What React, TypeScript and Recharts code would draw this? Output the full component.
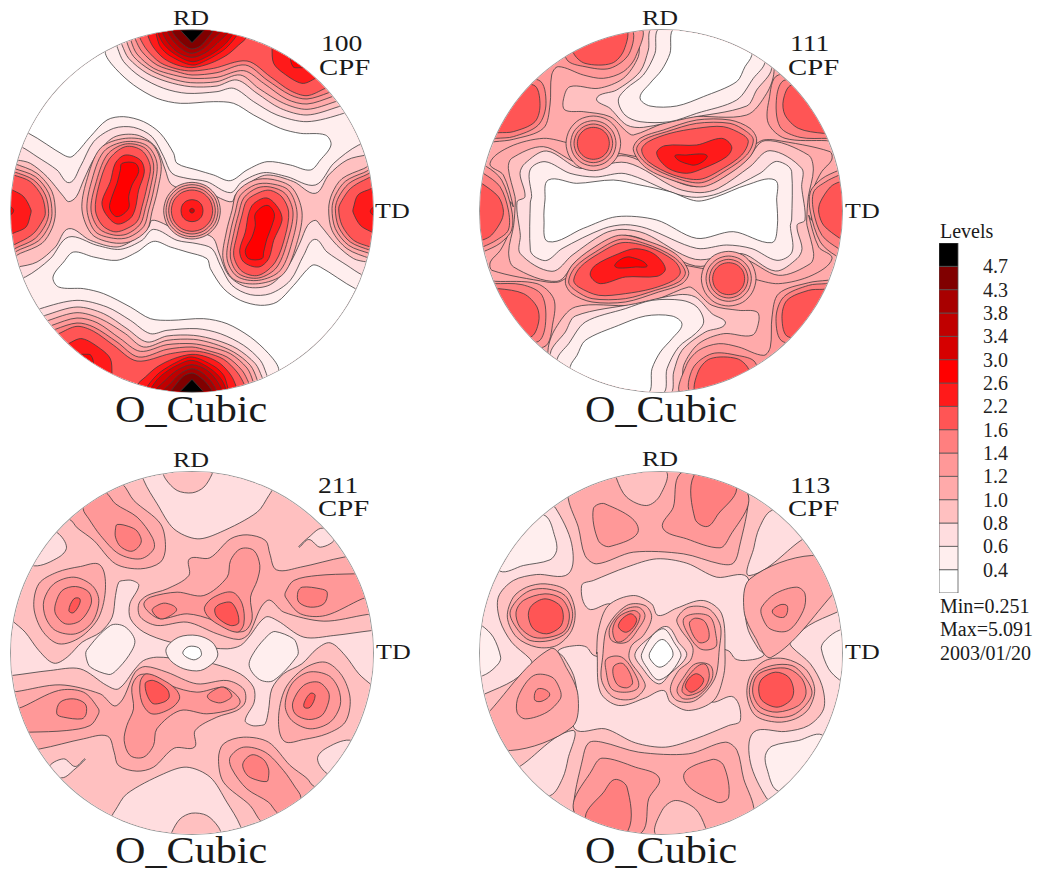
import React from 'react'
import { Bar, BarChart, Scatter, ScatterChart, XAxis, YAxis } from 'recharts'

type Pt = [number, number]
// level index, contour outline, also drawn through the flipped axes (pole figures are point symmetric)
type Layer = [number, Pt[], boolean]

const levelColors = [
  '#ffffff', '#ffeeee', '#ffdddf', '#ffc0c0', '#ffaaaa', '#ff9898', '#ff7f7f', '#ff5555',
  '#ff1a1a', '#ff0000', '#d60000', '#c00000', '#a80000', '#800000', '#000000',
]
const levelLabels = ['4.7', '4.3', '3.8', '3.4', '3.0', '2.6', '2.2', '1.6', '1.4', '1.2', '1.0', '0.8', '0.6', '0.4']

// ---- 100 figure ----
const p100_base: Pt[] = [[32, 90], [1118, 90], [1118, 1176], [32, 1176]]
const p100_t2: Pt[] = [[20, 478], [50, 480], [90, 490], [140, 530], [190, 590], [205, 605], [228, 590], [250, 540], [285, 470], [340, 412], [410, 405], [465, 440], [495, 510], [510, 550], [540, 565], [600, 565], [660, 595], [695, 605], [705, 585], [745, 550], [800, 525], [880, 545], [945, 580], [985, 525], [1040, 480], [1100, 465], [1130, 465], [1130, 80], [20, 80]]
const p100_t1: Pt[] = [[20, 430], [62, 440], [110, 470], [170, 510], [207, 548], [240, 500], [280, 425], [340, 385], [400, 382], [455, 410], [490, 470], [515, 520], [560, 535], [620, 545], [690, 578], [725, 545], [790, 518], [860, 530], [945, 555], [1000, 490], [1075, 435], [1130, 425], [1130, 80], [20, 80]]
const p100_white: Pt[] = [[315, 160], [345, 205], [400, 255], [470, 295], [540, 310], [640, 305], [700, 310], [760, 345], [840, 385], [900, 400], [975, 405], [992, 435], [960, 480], [930, 510], [870, 495], [800, 485], [740, 510], [690, 542], [640, 525], [590, 510], [530, 490], [520, 460], [480, 400], [430, 365], [370, 350], [320, 360], [270, 410], [215, 470], [190, 465], [85, 400], [20, 380], [20, 80], [315, 80]]
const p100_top2: Pt[] = [[345, 120], [352, 145], [370, 185], [420, 230], [490, 265], [560, 280], [650, 275], [700, 265], [760, 305], [830, 345], [920, 365], [1030, 340], [1130, 300], [1130, 80], [345, 80]]
const p100_top3: Pt[] = [[360, 120], [365, 135], [385, 175], [440, 220], [500, 245], [570, 260], [650, 258], [710, 240], [770, 280], [840, 325], [920, 345], [1015, 320], [1130, 280], [1130, 80], [360, 80]]
const p100_top4: Pt[] = [[375, 100], [380, 128], [400, 170], [450, 210], [510, 235], [570, 248], [650, 245], [720, 225], [775, 265], [850, 310], [920, 328], [1005, 305], [1130, 260], [1130, 80], [375, 80]]
const p100_top5: Pt[] = [[390, 100], [392, 122], [410, 162], [460, 205], [520, 225], [575, 235], [650, 232], [730, 212], [790, 250], [860, 298], [920, 312], [995, 290], [1130, 240], [1130, 80], [390, 80]]
const p100_top6: Pt[] = [[400, 100], [405, 118], [425, 155], [470, 195], [530, 215], [575, 225], [650, 218], [735, 195], [800, 240], [870, 285], [920, 297], [985, 278], [1130, 220], [1130, 80], [400, 80]]
const p100_top7: Pt[] = [[415, 90], [418, 112], [440, 150], [480, 188], [530, 207], [575, 213], [640, 205], [740, 183], [810, 230], [870, 272], [920, 287], [975, 265], [1130, 200], [1130, 80], [415, 80]]
const p100_top8: Pt[] = [[440, 90], [443, 108], [458, 140], [490, 175], [530, 195], [575, 203], [630, 190], [680, 165], [715, 135], [740, 110], [740, 80], [440, 80]]
const p100_side8: Pt[] = [[815, 145], [820, 190], [850, 220], [905, 250], [945, 235], [1000, 200], [900, 100], [815, 100]]
const p100_side9: Pt[] = [[872, 170], [878, 200], [895, 203], [910, 200], [890, 170]]
const p100_top9: Pt[] = [[465, 90], [468, 105], [480, 140], [510, 168], [575, 195], [620, 180], [670, 150], [695, 125], [712, 100], [712, 80], [465, 80]]
const p100_top10: Pt[] = [[478, 90], [485, 125], [520, 160], [575, 185], [620, 170], [660, 145], [685, 120], [698, 90]]
const p100_top11: Pt[] = [[490, 90], [498, 120], [530, 155], [575, 172], [615, 158], [650, 130], [680, 90]]
const p100_top12: Pt[] = [[505, 90], [515, 118], [545, 148], [575, 160], [610, 145], [640, 115], [660, 90]]
const p100_top13: Pt[] = [[518, 90], [530, 115], [555, 138], [575, 147], [600, 138], [625, 110], [635, 90]]
const p100_top14: Pt[] = [[540, 90], [575, 128], [612, 90]]
const p100_edge4: Pt[] = [[20, 485], [40, 490], [110, 520], [155, 575], [165, 640], [155, 685], [125, 730], [60, 760], [20, 775]]
const p100_edge5: Pt[] = [[20, 500], [40, 505], [105, 530], [145, 580], [155, 640], [145, 680], [115, 722], [60, 748], [20, 760]]
const p100_edge6: Pt[] = [[20, 510], [40, 515], [100, 540], [135, 585], [145, 640], [135, 675], [105, 715], [60, 738], [20, 748]]
const p100_edge7: Pt[] = [[20, 520], [40, 525], [90, 545], [125, 590], [135, 640], [125, 665], [100, 700], [60, 725], [20, 735]]
const p100_edge8: Pt[] = [[20, 565], [40, 572], [70, 590], [92, 630], [90, 645], [78, 680], [50, 695], [20, 700]]
const p100_edge9: Pt[] = [[25, 620], [40, 632], [25, 645]]
const p100_peak4: Pt[] = [[375, 415], [450, 428], [482, 490], [472, 570], [455, 635], [440, 690], [390, 725], [335, 728], [275, 703], [245, 630], [258, 545], [300, 445]]
const p100_peak5: Pt[] = [[375, 425], [440, 437], [470, 490], [460, 570], [445, 630], [430, 680], [385, 712], [340, 715], [285, 695], [260, 630], [272, 550], [310, 455]]
const p100_peak6: Pt[] = [[375, 432], [435, 445], [460, 495], [450, 565], [435, 625], [420, 672], [380, 702], [340, 705], [295, 685], [272, 630], [285, 555], [320, 465]]
const p100_peak7: Pt[] = [[375, 440], [425, 452], [450, 500], [440, 560], [425, 620], [410, 665], [370, 690], [340, 695], [305, 675], [285, 630], [295, 560], [325, 480]]
const p100_peak8: Pt[] = [[375, 465], [420, 480], [432, 515], [415, 570], [405, 625], [390, 655], [350, 672], [315, 640], [305, 605], [330, 545], [345, 490]]
const p100_peak9: Pt[] = [[365, 490], [405, 490], [415, 515], [395, 555], [385, 590], [385, 625], [350, 650], [328, 625], [335, 590], [350, 550], [360, 510]]
const p100_mid4: Pt[] = [[575, 547], [618, 558], [649, 590], [660, 632], [649, 675], [618, 706], [575, 717], [532, 706], [501, 675], [490, 632], [501, 590], [532, 558]]
const p100_mid5: Pt[] = [[575, 554], [614, 564], [643, 593], [653, 632], [643, 671], [614, 700], [575, 710], [536, 700], [507, 671], [497, 632], [507, 593], [536, 564]]
const p100_mid6: Pt[] = [[575, 562], [610, 571], [636, 597], [645, 632], [636, 667], [610, 693], [575, 702], [540, 693], [514, 667], [505, 632], [514, 597], [540, 571]]
const p100_mid7: Pt[] = [[575, 570], [606, 578], [629, 601], [637, 632], [629, 663], [606, 686], [575, 694], [544, 686], [521, 663], [513, 632], [521, 601], [544, 578]]
const p100_mid8: Pt[] = [[575, 599], [592, 603], [604, 615], [608, 632], [604, 649], [592, 661], [575, 665], [558, 661], [546, 649], [542, 632], [546, 615], [558, 603]]
const p100_mid9: Pt[] = [[575, 625], [580, 627], [582, 632], [580, 637], [575, 639], [570, 637], [568, 632], [570, 627]]

const p100Layers: Layer[] = [
  [3, p100_base, false],
  [2, p100_t2, true], [1, p100_t1, true], [0, p100_white, true],
  [2, p100_top2, true], [3, p100_top3, true], [4, p100_top4, true], [5, p100_top5, true], [6, p100_top6, true], [7, p100_top7, true],
  [8, p100_top8, true], [8, p100_side8, true], [9, p100_side9, true], [9, p100_top9, true], [10, p100_top10, true],
  [11, p100_top11, true], [12, p100_top12, true], [13, p100_top13, true], [14, p100_top14, true],
  [4, p100_edge4, true], [5, p100_edge5, true], [6, p100_edge6, true], [7, p100_edge7, true], [8, p100_edge8, true], [9, p100_edge9, true],
  [4, p100_peak4, true], [5, p100_peak5, true], [6, p100_peak6, true], [7, p100_peak7, true], [8, p100_peak8, true], [9, p100_peak9, true],
  [4, p100_mid4, false], [5, p100_mid5, false], [6, p100_mid6, false], [7, p100_mid7, false], [8, p100_mid8, false], [10, p100_mid9, false],
]

// ---- 111 figure ----
const p111_base: Pt[] = [[30, 90], [1116, 90], [1116, 1176], [30, 1176]]
const p111_u3: Pt[] = [[520, 85], [505, 170], [460, 235], [385, 265], [300, 260], [280, 300], [285, 330], [340, 335], [420, 350], [470, 395], [490, 405], [580, 370], [660, 350], [830, 345], [890, 280], [912, 215], [900, 85]]
const p111_u2: Pt[] = [[548, 85], [535, 150], [510, 215], [440, 270], [380, 295], [420, 325], [470, 375], [520, 382], [650, 355], [830, 318], [860, 270], [905, 205], [880, 85]]
const p111_u1: Pt[] = [[570, 85], [555, 160], [520, 225], [470, 265], [445, 300], [465, 345], [510, 365], [600, 365], [680, 340], [800, 300], [850, 235], [885, 185], [860, 85]]
const p111_uw: Pt[] = [[615, 85], [600, 160], [575, 210], [540, 250], [510, 293], [540, 318], [620, 318], [700, 290], [800, 245], [825, 200], [845, 167], [850, 85]]
const p111_ul5: Pt[] = [[510, 85], [497, 170], [460, 215], [400, 235], [340, 225], [265, 200], [245, 225], [240, 315], [220, 385], [130, 418], [75, 425], [20, 430], [20, 85]]
const p111_a6: Pt[] = [[480, 85], [478, 160], [420, 205], [345, 200], [290, 178], [280, 85]]
const p111_a7: Pt[] = [[465, 85], [462, 150], [425, 190], [345, 190], [310, 158], [300, 85]]
const p111_b6: Pt[] = [[205, 240], [228, 310], [205, 375], [130, 410], [80, 415], [20, 420], [20, 240]]
const p111_b7: Pt[] = [[190, 255], [210, 310], [195, 365], [130, 395], [88, 398], [20, 400], [20, 255]]
const p111_c5: Pt[] = [[925, 225], [897, 300], [895, 370], [945, 415], [1070, 422], [1130, 425], [1130, 225]]
const p111_c6: Pt[] = [[945, 240], [920, 290], [930, 380], [990, 412], [1075, 415], [1130, 415], [1130, 240]]
const p111_c7: Pt[] = [[965, 255], [940, 300], [945, 345], [985, 385], [1060, 400], [1130, 400], [1130, 255]]
const p111_mid4: Pt[] = [[130, 620], [100, 525], [60, 490], [120, 440], [220, 415], [300, 430], [500, 470], [700, 500], [860, 430], [880, 420], [915, 420], [1080, 455], [1085, 480], [1055, 515], [1030, 570], [1025, 660], [1016, 646], [1046, 741], [1086, 776], [1026, 826], [926, 851], [846, 836], [646, 796], [446, 766], [286, 836], [266, 846], [231, 846], [66, 811], [61, 786], [91, 751], [116, 696], [121, 606]]
const p111_mid3: Pt[] = [[135, 590], [115, 505], [125, 475], [220, 440], [330, 490], [470, 468], [620, 545], [680, 560], [745, 540], [830, 480], [885, 422], [1015, 465], [1030, 510], [1015, 590], [1010, 660], [1011, 676], [1031, 761], [1021, 791], [926, 826], [816, 776], [676, 798], [526, 721], [466, 706], [401, 726], [316, 786], [261, 844], [131, 801], [116, 756], [131, 676], [136, 606]]
const p111_mid2: Pt[] = [[165, 590], [150, 520], [165, 490], [230, 453], [330, 505], [470, 488], [620, 565], [690, 578], [745, 565], [840, 500], [900, 452], [995, 505], [995, 560], [1005, 660], [981, 676], [996, 746], [981, 776], [916, 813], [816, 761], [676, 778], [526, 701], [456, 688], [401, 701], [306, 766], [246, 814], [151, 761], [151, 706], [141, 606]]
const p111_mid1: Pt[] = [[185, 590], [180, 510], [225, 485], [300, 520], [376, 531], [466, 521], [616, 581], [680, 592], [746, 580], [870, 520], [915, 485], [950, 495], [965, 515], [965, 660], [961, 676], [966, 756], [921, 781], [846, 746], [770, 735], [680, 745], [530, 685], [466, 674], [400, 686], [276, 746], [231, 781], [196, 771], [181, 751], [181, 606]]
const p111_midw: Pt[] = [[235, 540], [225, 600], [222, 660], [235, 725], [340, 685], [440, 650], [560, 660], [680, 715], [790, 695], [905, 728], [922, 680], [920, 600], [915, 540], [830, 555], [740, 590], [680, 603], [600, 575], [510, 555], [430, 540], [320, 550]]
const p111_edge5: Pt[] = [[20, 495], [50, 500], [95, 540], [125, 630], [125, 690], [90, 730], [40, 755], [20, 760]]
const p111_edge6: Pt[] = [[20, 515], [40, 520], [90, 560], [115, 630], [115, 690], [80, 720], [40, 740], [20, 745]]
const p111_edge7: Pt[] = [[20, 545], [35, 550], [85, 590], [100, 630], [95, 660], [65, 705], [38, 720], [20, 720]]
const p111_ring4: Pt[] = [[370, 348], [412, 359], [441, 389], [452, 430], [441, 471], [412, 501], [370, 512], [328, 501], [299, 471], [288, 430], [299, 389], [328, 359]]
const p111_ring5: Pt[] = [[370, 362], [404, 371], [429, 396], [438, 430], [429, 464], [404, 489], [370, 498], [336, 489], [311, 464], [302, 430], [311, 396], [336, 371]]
const p111_ring6: Pt[] = [[370, 372], [399, 380], [420, 401], [428, 430], [420, 459], [399, 480], [370, 488], [341, 480], [320, 459], [312, 430], [320, 401], [341, 380]]
const p111_ring7: Pt[] = [[370, 382], [394, 388], [412, 406], [418, 430], [412, 454], [394, 472], [370, 478], [346, 472], [328, 454], [322, 430], [328, 406], [346, 388]]
const p111_pk5: Pt[] = [[490, 450], [510, 415], [580, 390], [680, 360], [780, 360], [840, 385], [860, 420], [840, 470], [780, 520], [700, 560], [620, 545], [530, 505]]
const p111_pk6: Pt[] = [[500, 450], [520, 420], [590, 395], [680, 370], [780, 370], [830, 395], [850, 420], [830, 465], [770, 510], [695, 548], [620, 535], [535, 495]]
const p111_pk7: Pt[] = [[515, 450], [535, 425], [600, 400], [680, 385], [760, 380], [820, 405], [835, 425], [815, 465], [760, 505], [690, 538], [610, 525], [535, 485]]
const p111_pk8: Pt[] = [[560, 460], [585, 437], [680, 435], [755, 415], [785, 440], [770, 470], [700, 505], [650, 520], [595, 505]]
const p111_pk9: Pt[] = [[615, 470], [650, 465], [700, 462], [712, 470], [690, 490], [665, 495]]

const p111Layers: Layer[] = [
  [4, p111_base, false],
  [4, p111_mid4, false], [3, p111_mid3, false], [2, p111_mid2, false], [1, p111_mid1, false], [0, p111_midw, false],
  [3, p111_u3, true], [2, p111_u2, true], [1, p111_u1, true], [0, p111_uw, true],
  [5, p111_ul5, true], [6, p111_a6, true], [7, p111_a7, true], [6, p111_b6, true], [7, p111_b7, true],
  [5, p111_c5, true], [6, p111_c6, true], [7, p111_c7, true],
  [5, p111_edge5, true], [6, p111_edge6, true], [7, p111_edge7, true],
  [4, p111_ring4, true], [5, p111_ring5, true], [6, p111_ring6, true], [7, p111_ring7, true],
  [5, p111_pk5, true], [6, p111_pk6, true], [7, p111_pk7, true], [8, p111_pk8, true], [9, p111_pk9, true],
]

// ---- 211 figure ----
const p211_base: Pt[] = [[31, 94], [1118, 94], [1118, 1181], [31, 1181]]
const p211_zone: Pt[] = [[15, 525], [34, 540], [74, 575], [115, 630], [160, 668], [200, 650], [245, 605], [300, 575], [335, 530], [345, 465], [355, 425], [370, 420], [395, 420], [415, 435], [388, 490], [390, 535], [430, 575], [510, 605], [600, 618], [680, 625], [720, 615], [745, 590], [795, 530], [830, 540], [910, 590], [1000, 585], [1115, 570], [1135, 570], [1134, 750], [1115, 735], [1075, 700], [1034, 645], [989, 607], [949, 625], [904, 670], [849, 700], [814, 745], [804, 810], [794, 850], [779, 855], [754, 855], [734, 840], [761, 785], [759, 740], [719, 700], [639, 670], [549, 657], [469, 650], [429, 660], [404, 685], [354, 745], [319, 735], [239, 685], [149, 690], [34, 705], [14, 705]]
const p211_blob1: Pt[] = [[258, 630], [330, 555], [372, 558], [403, 600], [385, 645], [345, 692], [325, 702], [270, 680], [258, 655]]
const p211_mid1: Pt[] = [[497, 625], [535, 590], [590, 585], [635, 605], [652, 640], [640, 665], [600, 690], [550, 685], [510, 660]]
const p211_mid0: Pt[] = [[547, 635], [565, 618], [595, 622], [603, 640], [598, 650], [580, 658], [555, 648]]
const p211_top2: Pt[] = [[430, 90], [430, 120], [470, 190], [520, 265], [590, 295], [660, 275], [770, 215], [805, 165], [815, 148], [830, 90]]
const p211_cap3: Pt[] = [[490, 90], [495, 115], [530, 150], [575, 157], [610, 140], [635, 100], [635, 85]]
const p211_left2: Pt[] = [[172, 278], [198, 320], [175, 350], [102, 376], [60, 340], [120, 260]]
const p211_sliver2: Pt[] = [[895, 318], [925, 290], [965, 263], [1005, 290], [960, 320], [925, 297], [897, 320]]
const p211_ul4: Pt[] = [[365, 130], [400, 180], [480, 250], [495, 320], [480, 365], [420, 385], [345, 370], [280, 300], [230, 262], [207, 237], [150, 240], [300, 100]]
const p211_ul5: Pt[] = [[315, 155], [345, 190], [410, 230], [455, 290], [460, 325], [420, 355], [355, 340], [300, 285], [265, 235], [248, 205], [260, 140]]
const p211_ul6: Pt[] = [[345, 265], [350, 252], [385, 258], [410, 272], [422, 305], [395, 332], [360, 318], [345, 290]]
const p211_lp4: Pt[] = [[298, 373], [315, 440], [295, 530], [240, 590], [175, 610], [125, 570], [100, 500], [115, 430], [170, 395], [240, 378]]
const p211_lp5: Pt[] = [[130, 480], [160, 430], [220, 410], [275, 435], [295, 480], [275, 545], [225, 580], [165, 570], [135, 530]]
const p211_lp6: Pt[] = [[165, 490], [185, 450], [225, 438], [265, 455], [272, 490], [240, 540], [195, 550], [165, 520]]
const p211_lp7: Pt[] = [[205, 510], [220, 475], [238, 475], [235, 495], [218, 517]]
const p211_cr4: Pt[] = [[567, 355], [628, 352], [690, 295], [740, 283], [795, 300], [808, 340], [828, 388], [900, 380], [1030, 350], [1130, 340], [1130, 520], [1100, 522], [970, 542], [850, 515], [800, 480], [745, 580], [715, 597], [650, 580], [560, 545], [470, 555], [420, 530], [415, 490], [440, 465], [500, 445], [565, 405]]
const p211_cr5: Pt[] = [[690, 360], [720, 325], [760, 330], [778, 375], [770, 420], [750, 470], [755, 535], [735, 570], [700, 572], [640, 540], [560, 520], [480, 535], [445, 515], [430, 490], [450, 470], [530, 455], [610, 465], [680, 410]]
const p211_cr6a: Pt[] = [[455, 510], [470, 495], [495, 488], [528, 505], [510, 525], [480, 535]]
const p211_cr6b: Pt[] = [[612, 500], [640, 470], [695, 455], [725, 490], [730, 550], [710, 575], [650, 550], [620, 525]]
const p211_cr7: Pt[] = [[643, 505], [660, 490], [695, 488], [715, 545], [690, 555], [650, 530]]
const p211_r5: Pt[] = [[855, 455], [880, 420], [950, 405], [1060, 400], [1130, 400], [1130, 460], [1085, 475], [975, 525], [900, 520], [855, 470]]
const p211_r6: Pt[] = [[892, 455], [905, 440], [960, 445], [980, 455], [970, 490], [930, 500], [895, 485]]

const p211Layers: Layer[] = [
  [3, p211_base, false],
  [2, p211_zone, false],
  [1, p211_blob1, true], [1, p211_mid1, false], [0, p211_mid0, false],
  [2, p211_top2, true], [3, p211_cap3, true], [2, p211_left2, true], [2, p211_sliver2, true],
  [4, p211_ul4, true], [5, p211_ul5, true], [6, p211_ul6, true],
  [4, p211_lp4, true], [5, p211_lp5, true], [6, p211_lp6, true], [7, p211_lp7, true],
  [4, p211_cr4, true], [5, p211_cr5, true], [6, p211_cr6a, true], [6, p211_cr6b, true], [7, p211_cr7, true],
  [5, p211_r5, true], [6, p211_r6, true],
]

// ---- 113 figure ----
const p113_base: Pt[] = [[30, 94], [1116, 94], [1116, 1181], [30, 1181]]
const p113_zone: Pt[] = [[355, 505], [335, 435], [370, 420], [470, 380], [560, 355], [650, 368], [740, 410], [832, 410], [825, 510], [835, 570], [865, 625], [881, 645], [826, 660], [796, 655], [774, 630], [696, 625], [696, 755], [726, 785], [791, 770], [811, 840], [776, 855], [676, 895], [586, 920], [496, 907], [406, 865], [314, 865], [321, 765], [311, 705], [281, 650], [265, 630], [320, 615], [350, 620], [372, 645], [450, 650], [450, 520], [420, 490]]
const p113_lobes: Pt[] = [[380, 640], [385, 570], [415, 495], [490, 465], [545, 490], [565, 525], [620, 503], [700, 480], [755, 520], [765, 640], [761, 705], [731, 780], [656, 810], [601, 785], [581, 750], [526, 772], [446, 795], [391, 755], [381, 635]]
const p113_ul2: Pt[] = [[235, 200], [255, 200], [305, 310], [295, 400], [200, 402], [130, 420], [85, 470], [90, 540], [125, 605], [180, 655], [185, 670], [130, 720], [45, 760], [20, 770], [20, 200]]
const p113_ul1: Pt[] = [[225, 225], [255, 290], [260, 330], [240, 358], [160, 375], [90, 392], [60, 330], [150, 230]]
const p113_low1: Pt[] = [[20, 555], [35, 555], [70, 590], [92, 650], [85, 670], [50, 700], [20, 705]]
const p113_tr2: Pt[] = [[905, 210], [868, 262], [852, 320], [840, 405], [1000, 295], [1020, 295], [1000, 210]]
const p113_top4: Pt[] = [[295, 175], [325, 260], [345, 345], [380, 370], [490, 335], [640, 340], [750, 370], [790, 368], [808, 320], [835, 165], [800, 85], [300, 85]]
const p113_cap3: Pt[] = [[440, 115], [470, 170], [530, 195], [570, 165], [585, 90], [440, 90]]
const p113_t5a: Pt[] = [[370, 205], [405, 190], [505, 265], [420, 318], [385, 300]]
const p113_t5b: Pt[] = [[630, 100], [610, 200], [578, 262], [650, 295], [750, 322], [778, 290], [835, 165], [720, 90]]
const p113_t6: Pt[] = [[672, 105], [675, 235], [712, 258], [745, 220], [800, 145], [750, 100]]
const p113_r4: Pt[] = [[1025, 345], [840, 415], [822, 510], [855, 590], [905, 650], [1085, 465], [1130, 400]]
const p113_r5: Pt[] = [[875, 500], [915, 460], [980, 440], [1005, 460], [1000, 510], [955, 570], [900, 565], [875, 525]]
const p113_r6: Pt[] = [[907, 515], [930, 493], [952, 497], [942, 530]]
const p113_lp4: Pt[] = [[225, 430], [290, 450], [315, 510], [305, 570], [260, 615], [200, 620], [140, 590], [112, 530], [130, 470], [170, 440]]
const p113_lp5: Pt[] = [[230, 445], [285, 465], [308, 520], [290, 575], [240, 600], [180, 600], [145, 570], [120, 520], [140, 480], [180, 450]]
const p113_lp6: Pt[] = [[225, 460], [275, 475], [298, 520], [285, 570], [240, 590], [190, 590], [150, 560], [138, 515], [160, 480]]
const p113_lp7: Pt[] = [[225, 475], [270, 495], [280, 530], [270, 560], [230, 580], [190, 565], [175, 525], [185, 495]]
const p113_lb4: Pt[] = [[398, 650], [412, 560], [470, 495], [525, 495], [545, 530], [520, 585], [485, 615], [478, 655], [515, 710], [525, 740], [490, 775], [430, 770], [395, 720]]
const p113_lb5a: Pt[] = [[425, 600], [420, 560], [460, 510], [505, 500], [525, 525], [505, 565], [470, 605]]
const p113_lb5b: Pt[] = [[408, 690], [410, 655], [455, 650], [495, 700], [505, 740], [470, 755], [425, 745]]
const p113_lb6a: Pt[] = [[428, 570], [445, 530], [490, 510], [510, 525], [490, 570], [445, 605]]
const p113_lb7a: Pt[] = [[445, 555], [480, 520], [500, 540], [470, 575]]
const p113_lb6b: Pt[] = [[430, 680], [460, 670], [488, 725], [470, 742], [440, 730]]
const p113_mid2: Pt[] = [[495, 640], [540, 590], [590, 558], [625, 605], [650, 645], [600, 700], [565, 730], [515, 680]]
const p113_mid1: Pt[] = [[515, 640], [575, 565], [615, 610], [632, 650], [570, 718], [530, 680]]
const p113_mid0: Pt[] = [[540, 635], [575, 597], [605, 625], [607, 650], [570, 680], [540, 655]]

const p113Layers: Layer[] = [
  [3, p113_base, false],
  [2, p113_zone, false], [3, p113_lobes, false],
  [2, p113_ul2, true], [1, p113_ul1, true], [1, p113_low1, true], [2, p113_tr2, true],
  [4, p113_top4, true], [3, p113_cap3, true], [5, p113_t5a, true], [5, p113_t5b, true], [6, p113_t6, true],
  [4, p113_r4, true], [5, p113_r5, true], [6, p113_r6, true],
  [4, p113_lp4, true], [5, p113_lp5, true], [6, p113_lp6, true], [7, p113_lp7, true],
  [4, p113_lb4, true], [5, p113_lb5a, true], [5, p113_lb5b, true], [6, p113_lb6a, true], [7, p113_lb7a, true], [6, p113_lb6b, true],
  [2, p113_mid2, false], [1, p113_mid1, false], [0, p113_mid0, false],
]

const serif = '"Liberation Serif", serif'
const size = 362

// closed curve through the contour points, for the line of each Scatter
const smoothClosed = (context: any) => {
  let pts: number[][] = []
  const pull = 0.3
  return {
    areaStart() {},
    areaEnd() {},
    lineStart() {
      pts = []
    },
    point(x: number, y: number) {
      pts.push([x, y])
    },
    lineEnd() {
      const n = pts.length
      if (!n) return
      context.moveTo(pts[0][0], pts[0][1])
      for (let i = 0; i < n; i++) {
        const p0 = pts[(i - 1 + n) % n]
        const p1 = pts[i]
        const p2 = pts[(i + 1) % n]
        const p3 = pts[(i + 2) % n]
        const len = Math.hypot(p2[0] - p1[0], p2[1] - p1[1])
        const a = Math.hypot(p2[0] - p0[0], p2[1] - p0[1]) || 1
        const b = Math.hypot(p3[0] - p1[0], p3[1] - p1[1]) || 1
        context.bezierCurveTo(
          p1[0] + ((p2[0] - p0[0]) / a) * len * pull,
          p1[1] + ((p2[1] - p0[1]) / a) * len * pull,
          p2[0] - ((p3[0] - p1[0]) / b) * len * pull,
          p2[1] - ((p3[1] - p1[1]) / b) * len * pull,
          p2[0],
          p2[1],
        )
      }
      context.closePath()
    },
  }
}

const Contour = (layer: Pt[], level: number, axis: string, key: string) => (
  <Scatter
    key={key}
    data={layer.map(([x, y]) => ({ x, y }))}
    xAxisId={axis}
    yAxisId={axis}
    isAnimationActive={false}
    legendType="none"
    shape={() => <g />}
    lineType="joint"
    lineJointType={(level === 14 ? 'linearClosed' : smoothClosed) as any}
    line={{ fill: levelColors[level], stroke: '#3c3c3c', strokeWidth: 0.8 }}
  />
)

const PoleFigure = ({ left, top, xDomain, yDomain, layers }: any) => (
  <div
    style={{
      position: 'absolute',
      left,
      top,
      width: size,
      height: size,
      borderRadius: '50%',
      overflow: 'hidden',
      boxShadow: '0 0 0 1px #999',
    }}
  >
    <ScatterChart width={size} height={size} margin={{ top: 0, right: 0, bottom: 0, left: 0 }}>
      <XAxis xAxisId="plain" type="number" dataKey="x" domain={xDomain} allowDataOverflow hide />
      <YAxis yAxisId="plain" type="number" dataKey="y" domain={yDomain} allowDataOverflow reversed hide />
      <XAxis xAxisId="flip" type="number" dataKey="x" domain={xDomain} allowDataOverflow reversed hide />
      <YAxis yAxisId="flip" type="number" dataKey="y" domain={yDomain} allowDataOverflow hide />
      {layers.flatMap(([level, pts, twin]: Layer, i: number) => {
        const marks = [Contour(pts, level, 'plain', `a${i}`)]
        if (twin) marks.push(Contour(pts, level, 'flip', `b${i}`))
        return marks
      })}
    </ScatterChart>
  </div>
)

const T = ({ x, base, fs, sx = 1, children }: any) => (
  <div
    style={{
      position: 'absolute',
      left: x,
      top: base - 0.8375 * fs,
      fontFamily: serif,
      fontSize: fs,
      lineHeight: 1,
      color: '#1a1a1a',
      whiteSpace: 'nowrap',
      transformOrigin: 'left top',
      transform: `scaleX(${sx})`,
    }}
  >
    {children}
  </div>
)

const barRow = [Object.fromEntries(levelColors.map((_, i) => [`l${i}`, 1]))]

const ColorBar = () => (
  <div style={{ position: 'absolute', left: 939, top: 243 }}>
    <BarChart width={90} height={350} data={barRow} margin={{ top: 0, right: 0, bottom: 0, left: 0 }} barCategoryGap={0}>
      <XAxis hide />
      <YAxis
        orientation="right"
        type="number"
        domain={[0, 15]}
        ticks={levelLabels.map((_, i) => 14 - i)}
        interval={0}
        tickFormatter={(v: number) => levelLabels[14 - v]}
        axisLine={false}
        tickLine={false}
        tickSize={0}
        tickMargin={25}
        width={71}
        tick={{ fontFamily: serif, fontSize: 20, fill: '#222' }}
      />
      {levelColors.map((c, i) => (
        <Bar key={c} dataKey={`l${i}`} stackId="levels" fill={c} stroke="#555" strokeWidth={0.8} isAnimationActive={false} />
      ))}
    </BarChart>
  </div>
)

export default function App() {
  return (
    <div style={{ position: 'absolute', left: 0, top: 0, width: 1039, height: 874, background: '#fff', overflow: 'hidden' }}>
      <PoleFigure left={10.7} top={30} xDomain={[32, 1118]} yDomain={[90, 1176]} layers={p100Layers} />
      <PoleFigure left={480} top={30} xDomain={[30, 1116]} yDomain={[90, 1176]} layers={p111Layers} />
      <PoleFigure left={10.5} top={471.5} xDomain={[31.5, 1117.5]} yDomain={[94.5, 1180.5]} layers={p211Layers} />
      <PoleFigure left={480} top={471.5} xDomain={[30, 1116]} yDomain={[94.5, 1180.5]} layers={p113Layers} />

      <T x={173} base={24.5} fs={20} sx={1.3}>RD</T>
      <T x={642} base={24.5} fs={20} sx={1.3}>RD</T>
      <T x={173} base={467} fs={20} sx={1.3}>RD</T>
      <T x={642} base={466} fs={20} sx={1.3}>RD</T>

      <T x={375} base={218} fs={20} sx={1.3}>TD</T>
      <T x={845} base={218} fs={20} sx={1.3}>TD</T>
      <T x={376} base={659} fs={20} sx={1.3}>TD</T>
      <T x={845} base={659} fs={20} sx={1.3}>TD</T>

      <T x={321} base={51} fs={23} sx={1.2}>100</T>
      <T x={319} base={75} fs={23} sx={1.25}>CPF</T>
      <T x={790} base={51} fs={23} sx={1.2}>111</T>
      <T x={788} base={75} fs={23} sx={1.25}>CPF</T>
      <T x={318} base={493} fs={23} sx={1.2}>211</T>
      <T x={318} base={516} fs={23} sx={1.25}>CPF</T>
      <T x={790} base={493} fs={23} sx={1.2}>113</T>
      <T x={788} base={516} fs={23} sx={1.25}>CPF</T>

      <T x={115} base={422} fs={37} sx={1.14}>O_Cubic</T>
      <T x={585} base={422} fs={37} sx={1.14}>O_Cubic</T>
      <T x={115} base={863} fs={37} sx={1.14}>O_Cubic</T>
      <T x={585} base={863} fs={37} sx={1.14}>O_Cubic</T>

      <T x={940} base={238} fs={20}>Levels</T>
      <ColorBar />
      <T x={940} base={613} fs={20}>Min=0.251</T>
      <T x={940} base={636} fs={20}>Max=5.091</T>
      <T x={940} base={660} fs={20}>2003/01/20</T>
    </div>
  )
}
